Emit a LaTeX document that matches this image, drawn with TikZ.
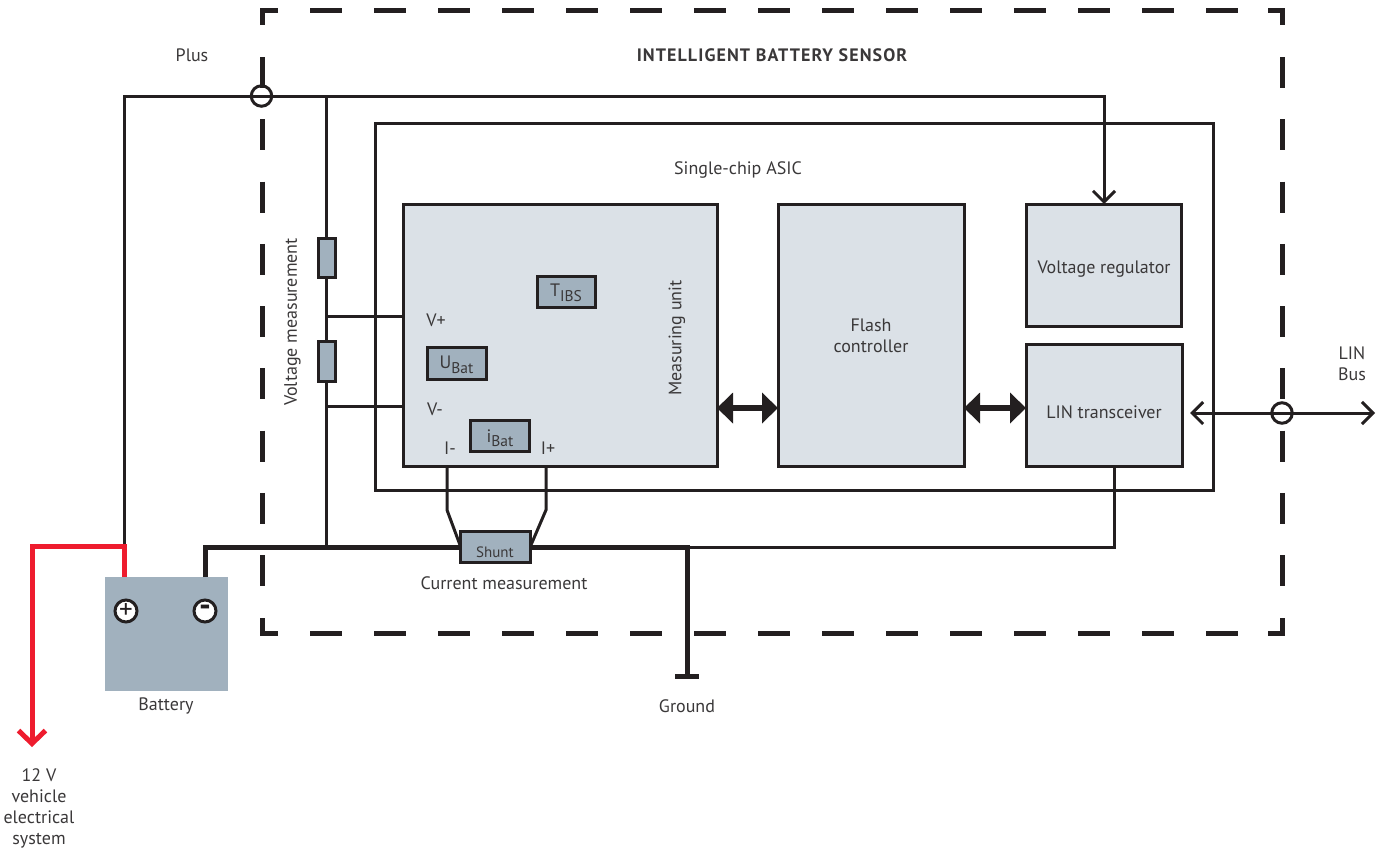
\documentclass[tikz,border=0pt]{standalone}
\usepackage{fontspec}
\setmainfont{PT Sans}
\usetikzlibrary{arrows.meta,calc}
\definecolor{ink}{HTML}{231F20}
\definecolor{txt}{HTML}{3A3839}
\definecolor{pale}{HTML}{DBE1E7}
\definecolor{steel}{HTML}{A1B1BE}
\definecolor{redw}{HTML}{EE1C2E}
\newcommand{\lowsub}[1]{\raisebox{-4.5pt}{\fontsize{15.5}{18}\selectfont #1}}
\tikzset{
  x=1pt,y=-1pt,
  every node/.style={font=\fontsize{18}{21}\selectfont,text=txt,inner sep=0pt,outer sep=0pt,align=center},
  boxat/.style 2 args={draw=ink,line width=3pt,minimum width=#1 pt,minimum height=#2 pt},
  lightbox/.style 2 args={boxat={#1}{#2},fill=pale},
  steelbox/.style 2 args={boxat={#1}{#2},fill=steel,line width=3pt},
  wire/.style={draw=ink,line width=3pt},
  thick wire/.style={draw=ink,line width=5pt},
  frame/.style={draw=ink,line width=5pt},
  port/.style={circle,draw=ink,line width=3pt,minimum size=20.5pt},
  terminal/.style={circle,draw=ink,fill=white,line width=3pt,minimum size=22pt,text=ink},
}
\begin{document}
\begin{tikzpicture}
\useasboundingbox (0,0) rectangle (1382,852);
% dashed enclosure
\draw[frame] (278,10) -- (262,10) -- (262,25);
\draw[frame] (1268,10) -- (1282.5,10) -- (1282.5,25);
\draw[frame] (278,633.5) -- (262,633.5) -- (262,618);
\draw[frame] (1268,633.5) -- (1282.5,633.5) -- (1282.5,618);
\foreach \k in {0,...,14} {
  \draw[frame] ({310+64*\k},10) -- ({342+64*\k},10);
  \draw[frame] ({310+64*\k},633.5) -- ({342+64*\k},633.5);
}
\foreach \k in {0,...,8} {
  \draw[frame] (262,{57+62.25*\k}) -- (262,{88+62.25*\k});
  \draw[frame] (1282.5,{57+62.25*\k}) -- (1282.5,{88+62.25*\k});
}
% boxes
\node[boxat={838}{367}] (asic) at (794,306.5) {};
\node[lightbox={314}{262}] (mu) at (560,335) {};
\node[lightbox={186}{262}] (flash) at (871,335) {};
\node[lightbox={155}{122}] (vreg) at (1103.5,265) {};
\node[lightbox={156}{122}] (lin) at (1104,405) {};
\node[steelbox={58}{31}] (tibs) at (566,291.5) {};
\node[steelbox={59}{32}] (ubat) at (456.5,363) {};
\node[steelbox={59}{31}] (ibat) at (499.5,435.5) {};
\node[steelbox={17}{39}] (r1) at (326.5,257.5) {};
\node[steelbox={17}{40}] (r2) at (326.5,361) {};
\node[fill=steel,minimum width=123pt,minimum height=114pt] (batt) at (166.5,634) {};
% free points
\coordinate (pTL) at (124.5,96.5);
\coordinate (pR) at (1104,96.5);
\coordinate (pJ) at (326.5,96.5);
\coordinate (gJ) at (326.5,547);
\coordinate (rC) at (124.5,546);
\coordinate (rL) at (32,546);
\coordinate (rE) at (32,747);
\coordinate (gT) at (205,547.5);
\coordinate (gR) at (687,547.5);
\coordinate (gB) at (687,676);
\coordinate (barL) at (675,676.5);
\coordinate (barR) at (699,676.5);
\coordinate (thinE) at (1114,547);
\coordinate (linE) at (1375,413);
\coordinate (linS) at (1190,413);
\coordinate (im) at (447,510);
\coordinate (ip) at (546,510);
% thin wires
\draw[wire,-{Straight Barb[length=11pt,width=22pt,line width=3pt]}] (rC) -- (pTL) -- (pR) -- (vreg.north -| pR);
\draw[wire] (pJ) -- (r1.north);
\draw[wire] (r1.south) -- (r2.north);
\draw[wire] (r2.south) -- (gJ);
\draw[wire] (326.5,316.5) -- (mu.west |- 0,316.5);
\draw[wire] (326.5,406.5) -- (mu.west |- 0,406.5);
\draw[wire] (mu.south -| im) -- (im) -- (460,545);
\draw[wire] (mu.south -| ip) -- (ip) -- (531,545);
\draw[wire] (gR |- thinE) -- (thinE) -- (lin.south -| thinE);
% thick wires
\draw[thick wire,line join=miter] (gT |- batt.north) -- (gT) -- (gR) -- (gB);
\draw[thick wire] (barL) -- (barR);
\node[steelbox={70}{31}] (shunt) at (495,546.5) {};
% red wire
\draw[draw=redw,line width=5pt,line join=miter,-{Straight Barb[length=13pt,width=27pt,line width=5pt]}] (124.5,577) -- (rC) -- (rL) -- (rE);
% block arrows
\draw[draw=ink,line width=6pt,{Triangle[length=16pt,width=30pt]}-{Triangle[length=16pt,width=30pt]}] (mu.east |- 0,408) -- (flash.west |- 0,408);
\draw[draw=ink,line width=6pt,{Triangle[length=16pt,width=30pt]}-{Triangle[length=16pt,width=30pt]}] (flash.east |- 0,408) -- (lin.west |- 0,408);
% LIN bus
\draw[wire,{Straight Barb[length=11pt,width=22pt,line width=3pt]}-{Straight Barb[length=11pt,width=22pt,line width=3pt]}] (linS) -- (linE);
% ports
\node[port] (plus) at (261.5,96) {};
\node[port] (busp) at (1282,413) {};
\node[terminal,font=\fontsize{27}{27}\selectfont] (tp) at (126,611) {+};
\node[terminal,font=\fontsize{33}{33}\selectfont\bfseries] (tm) at (205,611) {-};
% labels
\node (lplus) at (192,55.5) {Plus};
\node[font=\fontsize{18}{21}\selectfont\bfseries\addfontfeature{LetterSpace=6}] (ltitle) at (772,55.5) {INTELLIGENT BATTERY SENSOR};
\node (lasic) at (738,170) {Single-chip ASIC};
\node[rotate=90] (lvm) at (292.5,322) {Voltage measurement};
\node[rotate=90] (lmu) at (677,338) {Measuring unit};
\node (lvp) at (436,320) {V+};
\node (lvm2) at (435,409) {V-};
\node (lim) at (450,448) {I-};
\node (lip) at (548,448) {I+};
\node at (566,293) {T\lowsub{IBS}};
\node at (456.5,365) {U\lowsub{Bat}};
\node at (500,438) {i\lowsub{Bat}};
\node (lflash) at (871,335.5) {Flash\\controller};
\node (lvr) at (1104,269) {Voltage regulator};
\node (ltr) at (1104,412.5) {LIN transceiver};
\node (lbus) at (1352,363.5) {LIN\\Bus};
\node[font=\fontsize{15}{18}\selectfont] (lsh) at (495,552.5) {Shunt};
\node (lcm) at (504,583.5) {Current measurement};
\node (lbat) at (166,705.5) {Battery};
\node (lgnd) at (687,706) {Ground};
\node (lveh) at (39,808.5) {12 V\\vehicle\\electrical\\system};
\end{tikzpicture}
\end{document}
